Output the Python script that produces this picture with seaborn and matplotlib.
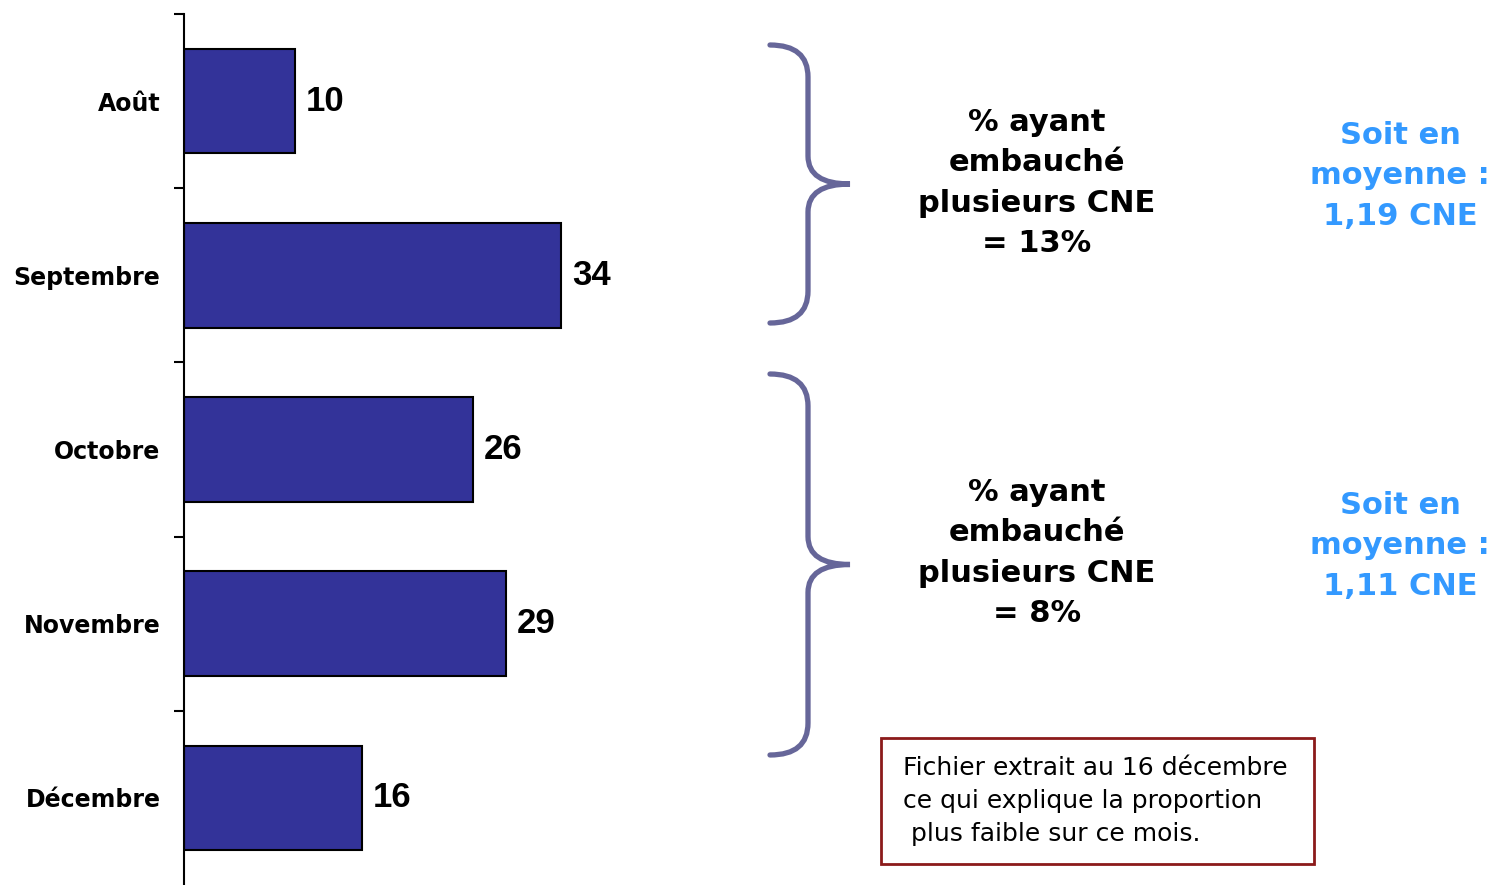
import matplotlib
matplotlib.use("Agg")
import matplotlib.pyplot as plt
import seaborn as sns
from matplotlib.path import Path
from matplotlib.patches import PathPatch, Rectangle

months = ["Août", "Septembre", "Octobre", "Novembre", "Décembre"]
values = [10, 34, 26, 29, 16]

group_texts = ["% ayant\nembauché\nplusieurs CNE\n= 13%",
               "% ayant\nembauché\nplusieurs CNE\n= 8%"]
average_texts = ["Soit en\nmoyenne :\n1,19 CNE",
                 "Soit en\nmoyenne :\n1,11 CNE"]
note_text = "Fichier extrait au 16 décembre\nce qui explique la proportion\n plus faible sur ce mois."

W, H = 1495, 885
sns.set_style("white")
plt.rcParams["font.family"] = ["DejaVu Sans"]

fig = plt.figure(figsize=(W / 100, H / 100), dpi=100)
ax = fig.add_axes([184 / W, 0, 555 / W, 871 / H])

sns.barplot(x=values, y=months, orient="h", color="#333399", saturation=1,
            edgecolor="black", linewidth=1.5, width=0.6, ax=ax)
ax.set_xlim(0, 50)
ax.set_ylim(len(months) - 0.5, -0.5)
ax.bar_label(ax.containers[0], padding=8, fontsize=25, fontweight="bold",
             family="Liberation Sans", color="black")

for side in ["top", "right", "bottom"]:
    ax.spines[side].set_visible(False)
ax.spines["left"].set_color("black")
ax.spines["left"].set_linewidth(1.5)
ax.set_xticks([])
ax.set_xlabel("")
ax.set_ylabel("")
ax.set_yticks(range(len(months)))
ax.set_yticklabels(months, fontsize=17, fontweight="semibold", color="black")
ax.tick_params(axis="y", which="major", length=0, pad=17)
ax.set_yticks([i - 0.5 for i in range(len(months))], minor=True)
ax.tick_params(axis="y", which="minor", length=7, width=1.5, color="black",
               direction="out", left=True)


def px(x, y):
    return (x / W, 1 - y / H)


def brace(top, bottom, x0=770, x1=808, tip=850):
    mid = (top + bottom) / 2
    verts = [px(x0, top), px(x1, top), px(x1, top + 32),
             px(x1, mid - 28), px(x1, mid), px(tip, mid),
             px(x1, mid), px(x1, mid + 28),
             px(x1, bottom - 32), px(x1, bottom), px(x0, bottom)]
    codes = [Path.MOVETO, Path.CURVE3, Path.CURVE3,
             Path.LINETO, Path.CURVE3, Path.CURVE3,
             Path.CURVE3, Path.CURVE3,
             Path.LINETO, Path.CURVE3, Path.CURVE3]
    patch = PathPatch(Path(verts, codes), facecolor="none", edgecolor="#666699",
                      linewidth=3.8, capstyle="round", transform=fig.transFigure)
    fig.add_artist(patch)


brace(45, 323)
brace(374, 755)

for txt, yc in zip(group_texts, [183, 553]):
    fig.text(1037 / W, 1 - yc / H, txt, ha="center", va="center", fontsize=22,
             fontweight="semibold", linespacing=1.5, color="black")
for txt, yc in zip(average_texts, [176, 546]):
    fig.text(1400 / W, 1 - yc / H, txt, ha="center", va="center", fontsize=22,
             fontweight="semibold", linespacing=1.5, color="#3399FF")

fig.add_artist(Rectangle(px(881, 864), 433 / W, 126 / H, transform=fig.transFigure,
                         facecolor="white", edgecolor="#8B1A1A", linewidth=2))
fig.text(903 / W, 1 - 801 / H, note_text, ha="left", va="center", fontsize=18,
         linespacing=1.47, color="black")

fig.savefig("out.png", dpi=100)
